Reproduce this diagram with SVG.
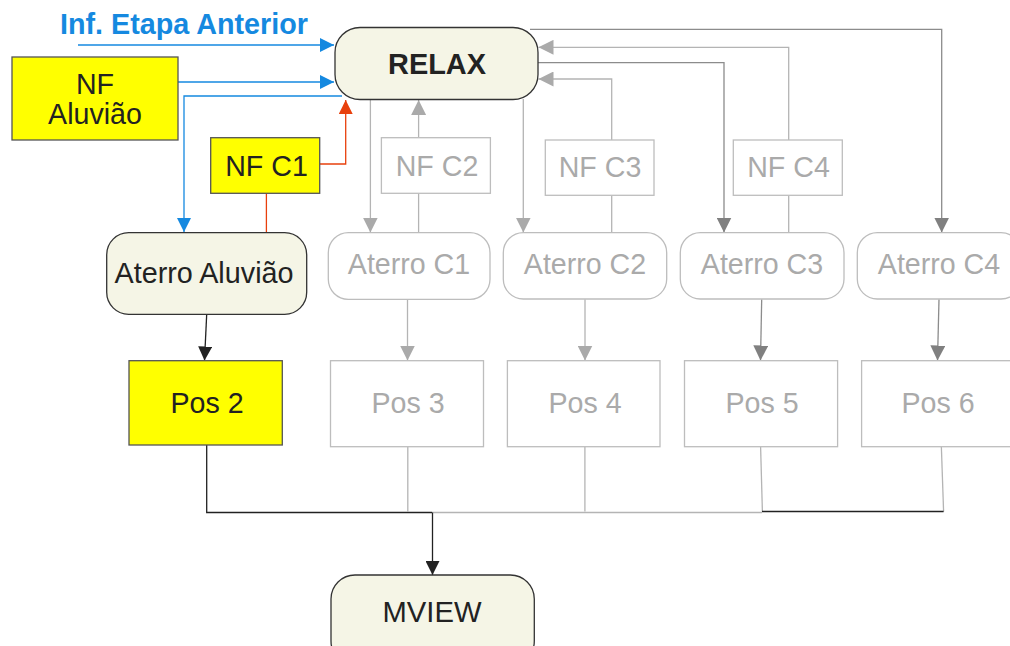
<svg xmlns="http://www.w3.org/2000/svg" width="1010" height="646" viewBox="0 0 1010 646">
<style>
text{font-family:"Liberation Sans",Arial,sans-serif;font-size:28.6px;text-anchor:middle}
.dk{fill:#222}
.gt{fill:#aaaaaa}
.beige{fill:#f5f5e6;stroke:#333;stroke-width:1.3}
.yel{fill:#ffff00;stroke:#555;stroke-width:1.3}
.gbox{fill:#fff;stroke:#bdbdbd;stroke-width:1.3}
.ln{fill:none;stroke-width:1.3}
.blue{stroke:#1589e0}
.red{stroke:#e8400c}
.lg{stroke:#b4b4b4}
.mg{stroke:#8c8c8c}
.bk{stroke:#222}
</style>
<defs>
<marker id="aBlue" markerUnits="userSpaceOnUse" markerWidth="14" markerHeight="14" refX="14" refY="7" orient="auto"><path d="M0,0 L14,7 L0,14 z" fill="#1589e0"/></marker>
<marker id="aRed" markerUnits="userSpaceOnUse" markerWidth="14" markerHeight="14" refX="14" refY="7" orient="auto"><path d="M0,0 L14,7 L0,14 z" fill="#e8400c"/></marker>
<marker id="aLg" markerUnits="userSpaceOnUse" markerWidth="15" markerHeight="15" refX="15" refY="7.5" orient="auto"><path d="M0,0 L15,7.5 L0,15 z" fill="#aaaaaa"/></marker>
<marker id="aMg" markerUnits="userSpaceOnUse" markerWidth="15" markerHeight="15" refX="15" refY="7.5" orient="auto"><path d="M0,0 L15,7.5 L0,15 z" fill="#808080"/></marker>
<marker id="aBk" markerUnits="userSpaceOnUse" markerWidth="14" markerHeight="14" refX="14" refY="7" orient="auto"><path d="M0,0 L14,7 L0,14 z" fill="#222"/></marker>
</defs>

<text x="184" y="34" style="font-weight:bold;fill:#1589e0" textLength="248" lengthAdjust="spacingAndGlyphs">Inf. Etapa Anterior</text>

<g id="connectors">
  <path class="ln blue" d="M78,45 H334" marker-end="url(#aBlue)"/>
  <path class="ln blue" d="M178,82 H334" marker-end="url(#aBlue)"/>
  <path class="ln blue" d="M342,96 H184 V232" marker-end="url(#aBlue)"/>
  <path class="ln red" d="M320,164 H345.7 V100" marker-end="url(#aRed)"/>
  <path class="ln red" d="M266.4,193.3 V233"/>
  <path class="ln lg" d="M370.4,99 V232.5" marker-end="url(#aLg)"/>
  <path class="ln lg" d="M418.6,137.7 V100" marker-end="url(#aLg)"/>
  <path class="ln lg" d="M418.6,193.3 V233"/>
  <path class="ln lg" d="M523.3,99 V232.5" marker-end="url(#aLg)"/>
  <path class="ln lg" d="M611.7,140 V79 H538.5" marker-end="url(#aLg)"/>
  <path class="ln lg" d="M611.7,195.3 V233"/>
  <path class="ln lg" d="M788.7,140 V47.3 H538.5" marker-end="url(#aLg)"/>
  <path class="ln lg" d="M788.7,195.3 V233"/>
  <path class="ln mg" d="M530,29.3 H941.7 V232.5" marker-end="url(#aMg)"/>
  <path class="ln mg" d="M537,62.7 H724 V232.5" marker-end="url(#aMg)"/>
  <path class="ln bk" d="M206.7,314.3 L204.5,360.5" marker-end="url(#aBk)"/>
  <path class="ln lg" d="M407.5,299.3 V360.5" marker-end="url(#aLg)"/>
  <path class="ln lg" d="M585,299.3 V360.5" marker-end="url(#aLg)"/>
  <path class="ln mg" d="M761.7,299.3 L760.5,360.5" marker-end="url(#aMg)"/>
  <path class="ln mg" d="M939,299.3 L937.5,360.5" marker-end="url(#aMg)"/>
  <path class="ln bk" d="M206.7,445 V512.5 H432"/>
  <path class="ln lg" d="M407.8,446.7 V512"/>
  <path class="ln lg" d="M584.9,446.7 V511.5"/>
  <path class="ln lg" d="M760.6,446.7 L762.4,511.5"/>
  <path class="ln lg" d="M941.3,445 L943.6,511.5"/>
  <path class="ln lg" d="M432,512.5 H762"/>
  <path class="ln bk" d="M762,511.5 H943.6"/>
  <path class="ln bk" d="M432.5,512.5 V575" marker-end="url(#aBk)"/>
</g>

<g id="relax">
  <rect class="beige" x="335" y="27.5" width="203" height="72" rx="25"/>
  <text class="dk" x="437" y="74" style="font-weight:bold" textLength="98" lengthAdjust="spacingAndGlyphs">RELAX</text>
</g>
<g id="nf-aluviao">
  <rect class="yel" x="12" y="57" width="166" height="83"/>
  <text class="dk" x="95" y="94">NF</text>
  <text class="dk" x="95" y="124">Aluvião</text>
</g>
<g id="nf-c1">
  <rect class="yel" x="210.7" y="137.7" width="109" height="55.6"/>
  <text class="dk" x="266.5" y="176">NF C1</text>
</g>
<g id="nf-c2">
  <rect class="gbox" x="381.4" y="137.7" width="109" height="55.6"/>
  <text class="gt" x="437" y="176">NF C2</text>
</g>
<g id="nf-c3">
  <rect class="gbox" x="545.3" y="140" width="108.7" height="55.3"/>
  <text class="gt" x="600" y="176.7">NF C3</text>
</g>
<g id="nf-c4">
  <rect class="gbox" x="733.3" y="140" width="109" height="55.3"/>
  <text class="gt" x="788.5" y="176.7">NF C4</text>
</g>
<g id="aterro-aluviao">
  <rect class="beige" x="106.7" y="232.7" width="200" height="81.6" rx="22"/>
  <text class="dk" x="204" y="283.3" textLength="179" lengthAdjust="spacingAndGlyphs">Aterro Aluvião</text>
</g>
<g id="aterro-c1">
  <rect class="gbox" x="328.3" y="232.7" width="161.7" height="66.6" rx="20"/>
  <text class="gt" x="409" y="274.3">Aterro C1</text>
</g>
<g id="aterro-c2">
  <rect class="gbox" x="503.3" y="232.7" width="163.4" height="66.3" rx="20"/>
  <text class="gt" x="585" y="274.3">Aterro C2</text>
</g>
<g id="aterro-c3">
  <rect class="gbox" x="680.3" y="232.7" width="163.7" height="66.3" rx="20"/>
  <text class="gt" x="762" y="274.3">Aterro C3</text>
</g>
<g id="aterro-c4">
  <rect class="gbox" x="857.3" y="232.7" width="163.7" height="66.3" rx="20"/>
  <text class="gt" x="939" y="274.3">Aterro C4</text>
</g>
<g id="pos2">
  <rect class="yel" x="129" y="360.7" width="153.3" height="84.3"/>
  <text class="dk" x="207" y="413.3">Pos 2</text>
</g>
<g id="pos3">
  <rect class="gbox" x="330.5" y="360.7" width="153" height="86"/>
  <text class="gt" x="408" y="413.3">Pos 3</text>
</g>
<g id="pos4">
  <rect class="gbox" x="507.4" y="360.7" width="152.6" height="86"/>
  <text class="gt" x="585" y="413.3">Pos 4</text>
</g>
<g id="pos5">
  <rect class="gbox" x="684.5" y="360.7" width="153.1" height="86"/>
  <text class="gt" x="762" y="413.3">Pos 5</text>
</g>
<g id="pos6">
  <rect class="gbox" x="861.6" y="360.7" width="153" height="86"/>
  <text class="gt" x="938" y="413.3">Pos 6</text>
</g>
<g id="mview">
  <rect class="beige" x="331" y="575" width="203.3" height="90" rx="24"/>
  <text class="dk" x="432" y="621.7" textLength="99" lengthAdjust="spacingAndGlyphs">MVIEW</text>
</g>
</svg>
